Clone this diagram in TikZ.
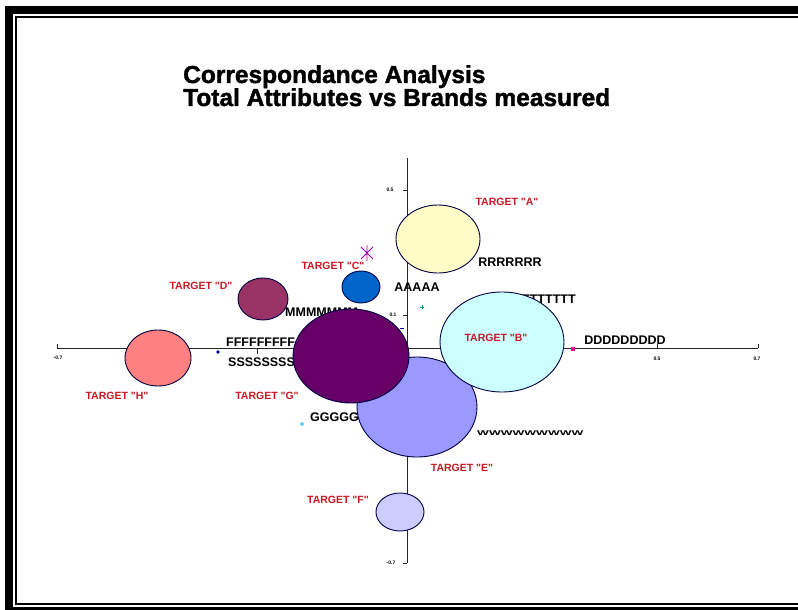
\documentclass[tikz,border=0pt]{standalone}
\usepackage{fontspec}
\setmainfont{Liberation Sans}
\newfontfamily\heavyfont{Liberation Sans}[FakeBold=1.6]
\usetikzlibrary{shapes.geometric}
\definecolor{tgtred}{RGB}{200,25,35}
\definecolor{cYellow}{RGB}{255,252,200}
\definecolor{cBlue}{RGB}{0,102,204}
\definecolor{cMaroon}{RGB}{153,51,102}
\definecolor{cSalmon}{RGB}{255,128,128}
\definecolor{cPurple}{RGB}{102,0,102}
\definecolor{cPeri}{RGB}{153,153,255}
\definecolor{cCyan}{RGB}{204,255,255}
\definecolor{cLav}{RGB}{204,204,255}
\newcommand{\qt}{\textquotedbl}
\begin{document}
\begin{tikzpicture}[x=1pt,y=-1pt]
  \tikzstyle{bubble} = [ellipse,draw=black!75!blue,line width=0.9pt,inner sep=0pt]
  \tikzstyle{target} = [text=tgtred,font=\fontsize{10.5}{12}\selectfont\bfseries,inner sep=0pt]
  \tikzstyle{attr}   = [font=\fontsize{12.5}{14}\selectfont\bfseries,inner sep=0pt]
  \tikzstyle{ticklbl}= [font=\fontsize{5}{6}\selectfont\bfseries,inner sep=0pt]
  \tikzstyle{title}  = [font=\fontsize{24.5}{27}\heavyfont\bfseries,inner sep=0pt,anchor=base west]
  \tikzstyle{axis}   = [line width=1pt,black!85]
  \useasboundingbox (0,0) rectangle (798,610);
  \clip (0,0) rectangle (798,610);
  % double frame
  \draw[line width=8pt] (9,10) rectangle (804,611);
  \draw[line width=2pt] (16,17) rectangle (801,604);
  % title
  \path (183,83)  node[title](t1) {Correspondance Analysis};
  \path (183,106) node[title](t2) {Total Attributes vs Brands measured};
  % axes
  \coordinate (xl) at (57,348);
  \coordinate (xr) at (758,348);
  \coordinate (yt) at (407,158);
  \coordinate (yb) at (407,563);
  \draw[axis] (xl) -- (xr);
  \draw[axis] (yt) -- (yb);
  \draw[axis] (xl) -- ++(0,-4) (xr) -- ++(0,-4) (657,348) -- ++(0,-4) (257,348) -- ++(0,6);
  \draw[axis] (yb) -- ++(-4,0) (407,190) -- ++(-4,0) (407,315) -- ++(-4,0);
  \path (58,358)  node[ticklbl](lx1) {-0.7};
  \path (657,359) node[ticklbl](lx2) {0.5};
  \path (757,359) node[ticklbl](lx3) {0.7};
  \path (390,190) node[ticklbl](ly1) {0.5};
  \path (393,315) node[ticklbl](ly2) {0.1};
  \path (391,563) node[ticklbl](ly3) {-0.7};
  % attribute labels
  \path (510,262) node[attr](aR) {RRRRRRR};
  \path (417,287) node[attr](aA) {AAAAA};
  \path (522,299) node[attr,anchor=west](aT) {TTTTTTT};
  \path (285,312) node[attr,anchor=west](aM) {MMMMMMM};
  \path (226,342) node[attr,anchor=west](aF) {FFFFFFFFF};
  \path (228,362) node[attr,anchor=west](aS) {SSSSSSSSS};
  \path (310,417) node[attr,anchor=west](aG) {GGGGG};
  \path (625,340) node[attr](aD) {DDDDDDDDD};
  \path (477,433) node[attr,anchor=west](aW) {\scalebox{1}[0.55]{WWWWWWWWW}};
  % bubbles
  \path (158,358) node[bubble,fill=cSalmon,minimum width=66pt,minimum height=56pt](bH) {};
  \path (263,299) node[bubble,fill=cMaroon,minimum width=50pt,minimum height=42pt](bD) {};
  \path (361,287) node[bubble,fill=cBlue,minimum width=38pt,minimum height=32pt](bC) {};
  \path (438,239) node[bubble,fill=cYellow,minimum width=84pt,minimum height=68pt](bA) {};
  \path (400,512) node[bubble,fill=cLav,minimum width=48pt,minimum height=38pt](bF) {};
  \path (417,407) node[bubble,fill=cPeri,minimum width=120pt,minimum height=100pt](bE) {};
  \path (502,342) node[bubble,fill=cCyan,minimum width=124pt,minimum height=100pt](bB) {};
  \path (351,356) node[bubble,fill=cPurple,minimum width=116pt,minimum height=94pt](bG) {};
  % small markers
  \coordinate (star) at (367,253);
  \draw[violet!70!magenta,line width=0.8pt] (star) ++(-6,-6) -- ++(12,12) (star) ++(-6,6) -- ++(12,-12) (star) ++(0,-8) -- ++(0,16);
  \draw[teal!70!green,line width=0.6pt] (422,307) ++(-2,0) -- ++(4,0) (422,307) ++(0,-2) -- ++(0,4);
  \path (218,352) node[diamond,fill=blue!60!black,minimum size=4pt,inner sep=0pt](mD) {};
  \path (573,349) node[rectangle,fill=magenta,minimum size=4pt,inner sep=0pt](mB) {};
  \path (302,424) node[circle,fill=cyan!60,minimum size=4pt,inner sep=0pt](mG) {};
  \draw[blue!60!black,line width=0.8pt] (400,328) -- (404,328);
  % brand labels
  \path (507,202) node[target](tA) {TARGET \qt A\qt};
  \path (333,266) node[target](tC) {TARGET \qt C\qt};
  \path (201,286) node[target](tD) {TARGET \qt D\qt};
  \path (117,396) node[target](tH) {TARGET \qt H\qt};
  \path (267,396) node[target](tG) {TARGET \qt G\qt};
  \path (496,338) node[target](tB) {TARGET \qt B\qt};
  \path (462,468) node[target](tE) {TARGET \qt E\qt};
  \path (338,500) node[target](tF) {TARGET \qt F\qt};
\end{tikzpicture}
\end{document}
